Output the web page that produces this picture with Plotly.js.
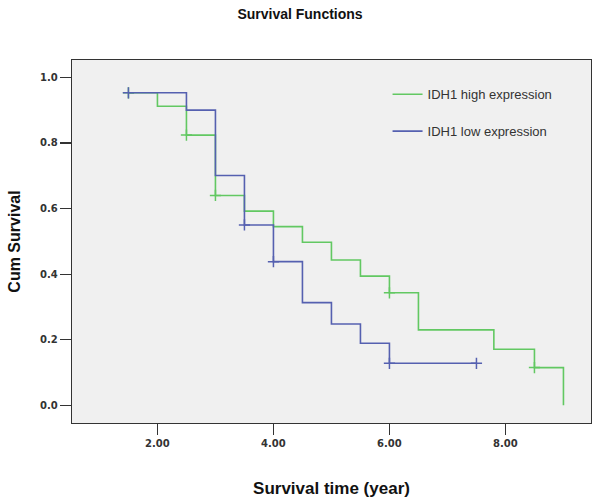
<!DOCTYPE html>
<html>
<head>
<meta charset="utf-8">
<script src="https://cdn.plot.ly/plotly-3.0.1.min.js"></script>
<style>html,body{margin:0;padding:0;background:#fff;}#chart{width:600px;height:504px;}</style>
</head>
<body>
<div id="chart"></div>
<script>
// Kaplan-Meier step data (time in years, cumulative survival)
const highTime = [1.5, 2.0, 2.5, 3.0, 3.5, 4.0, 4.5, 5.0, 5.5, 6.0, 6.5, 7.8, 8.5, 9.0];
const highSurv = [0.953, 0.912, 0.824, 0.640, 0.592, 0.545, 0.497, 0.443, 0.394, 0.343, 0.230, 0.171, 0.115, 0.0];
const lowTime = [1.5, 2.5, 3.0, 3.5, 4.0, 4.5, 5.0, 5.5, 6.0, 7.5];
const lowSurv = [0.953, 0.900, 0.701, 0.550, 0.438, 0.313, 0.248, 0.189, 0.128, 0.128];

// Censored observations
const highCensorTime = [1.5, 2.5, 3.0, 6.0, 8.5];
const highCensorSurv = [0.953, 0.824, 0.640, 0.343, 0.115];
const lowCensorTime = [1.5, 3.5, 4.0, 6.0, 7.5];
const lowCensorSurv = [0.953, 0.550, 0.438, 0.128, 0.128];

const seriesNames = ['IDH1 high expression', 'IDH1 low expression'];
const xTickVals = [2, 4, 6, 8];
const xTickText = ['2.00', '4.00', '6.00', '8.00'];
const yTickVals = [0, 0.2, 0.4, 0.6, 0.8, 1.0];
const yTickText = ['0.0', '0.2', '0.4', '0.6', '0.8', '1.0'];

const green = '#62c862';
const blue = '#5560b0';

const traces = [
  {x: highTime, y: highSurv, type: 'scatter', mode: 'lines', line: {shape: 'hv', color: green, width: 1.6},
   name: seriesNames[0], legendgroup: 'g1'},
  {x: lowTime, y: lowSurv, type: 'scatter', mode: 'lines', line: {shape: 'hv', color: blue, width: 1.6},
   name: seriesNames[1], legendgroup: 'g2'},
  {x: highCensorTime, y: highCensorSurv, type: 'scatter', mode: 'markers', showlegend: false, legendgroup: 'g1',
   marker: {symbol: 'cross-thin', size: 8, line: {color: green, width: 1.5}}, hoverinfo: 'skip'},
  {x: lowCensorTime, y: lowCensorSurv, type: 'scatter', mode: 'markers', showlegend: false, legendgroup: 'g2',
   marker: {symbol: 'cross-thin', size: 8, line: {color: blue, width: 1.5}}, hoverinfo: 'skip'}
];

const tickFont = {family: 'DejaVu Sans', size: 10, color: '#333', weight: 'bold'};

const layout = {
  width: 600, height: 504,
  paper_bgcolor: '#ffffff',
  plot_bgcolor: '#f0f0f0',
  margin: {l: 72, r: 9, t: 60, b: 81},
  title: {text: '<b>Survival Functions</b>', x: 0.5, xanchor: 'center', y: 0.972, yanchor: 'middle',
          font: {family: 'Liberation Sans, Arial, sans-serif', size: 14, color: '#111'}},
  showlegend: true,
  legend: {x: 0.608, xanchor: 'left', y: 0.947, yanchor: 'top', bgcolor: 'rgba(0,0,0,0)',
           font: {family: 'Liberation Sans, Arial, sans-serif', size: 13, color: '#333'},
           traceorder: 'grouped', tracegroupgap: 17},
  xaxis: {
    range: [0.527, 9.475], tickvals: xTickVals, ticktext: xTickText,
    showgrid: false, zeroline: false, showline: true, mirror: true, linecolor: '#333', linewidth: 1.2,
    ticks: 'outside', ticklen: 11, tickcolor: '#333', tickwidth: 1.2, tickfont: tickFont,
    title: {text: '<b>Survival time (year)</b>', font: {family: 'Liberation Sans, Arial, sans-serif', size: 17, color: '#111'}, standoff: 33}
  },
  yaxis: {
    range: [-0.054, 1.053], tickvals: yTickVals, ticktext: yTickText,
    showgrid: false, zeroline: false, showline: true, mirror: true, linecolor: '#333', linewidth: 1.2,
    ticks: 'outside', ticklen: 11, tickcolor: '#333', tickwidth: 1.2, tickfont: tickFont,
    title: {text: '<b>Cum Survival</b>', font: {family: 'Liberation Sans, Arial, sans-serif', size: 16, color: '#111'}, standoff: 15}
  }
};

Plotly.newPlot('chart', traces, layout, {displayModeBar: false, staticPlot: true});
</script>
</body>
</html>
